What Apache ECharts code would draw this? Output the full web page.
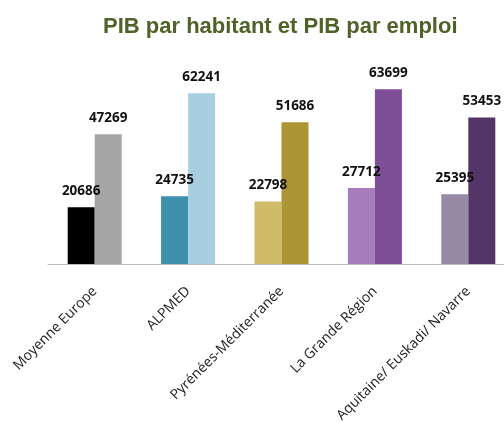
<!DOCTYPE html>
<html>
<head>
<meta charset="utf-8">
<script src="https://cdn.jsdelivr.net/npm/echarts@6/dist/echarts.min.js"></script>
<style>
  html, body { margin: 0; padding: 0; background: #fff; }
  #main { width: 504px; height: 422px; }
</style>
</head>
<body>
<div id="main"></div>
<script>
// données
var regions = ['Moyenne Europe', 'ALPMED', 'Pyrénées-Méditerranée', 'La Grande Région', 'Aquitaine/ Euskadi/ Navarre'];
var pibHabitant = [20686, 24735, 22798, 27712, 25395];
var pibEmploi = [47269, 62241, 51686, 63699, 53453];

// une couleur par barre, comme dans l'original
var colorsHabitant = ['#000000', '#3e8fab', '#d0bb68', '#a67cbc', '#968aa4'];
var colorsEmploi = ['#a6a6a6', '#a7cfe0', '#ae9534', '#7e4f97', '#533667'];

function withColors(values, colors) {
  return values.map(function (v, i) {
    return { value: v, itemStyle: { color: colors[i] } };
  });
}

var labelStyle = {
  show: true,
  position: 'top',
  distance: 9,
  color: '#111',
  fontSize: 13.5,
  fontWeight: 'bold',
  fontFamily: 'Open Sans, sans-serif'
};

var option = {
  animation: false,
  title: {
    text: 'PIB par habitant et PIB par emploi',
    left: 98,
    top: 11,
    textStyle: {
      fontFamily: 'Liberation Sans, Arial, sans-serif',
      fontSize: 22,
      fontWeight: 'bold',
      color: '#4f6228',
      textShadowColor: 'rgba(200,170,60,0.5)',
      textShadowOffsetX: 1,
      textShadowOffsetY: 1,
      textShadowBlur: 0
    }
  },
  grid: {
    left: 48,
    width: 467,
    top: 72,
    bottom: 158,
    containLabel: false,
    outerBoundsMode: 'none'
  },
  xAxis: {
    type: 'category',
    data: regions,
    axisLine: { lineStyle: { color: '#bfbfbf', width: 1 } },
    axisTick: { show: false },
    axisLabel: {
      rotate: 45,
      margin: 25,
      interval: 0,
      color: '#222',
      fontSize: 14,
      fontFamily: 'Open Sans, sans-serif'
    }
  },
  yAxis: {
    type: 'value',
    min: 0,
    max: 70000,
    show: false,
    splitLine: { show: false }
  },
  series: [
    {
      name: 'PIB par habitant',
      type: 'bar',
      barWidth: 27,
      barGap: '0%',
      data: withColors(pibHabitant, colorsHabitant),
      label: labelStyle
    },
    {
      name: 'PIB par emploi',
      type: 'bar',
      barWidth: 27,
      barGap: '0%',
      data: withColors(pibEmploi, colorsEmploi),
      label: labelStyle
    }
  ]
};

echarts.init(document.getElementById('main')).setOption(option);
</script>
</body>
</html>
